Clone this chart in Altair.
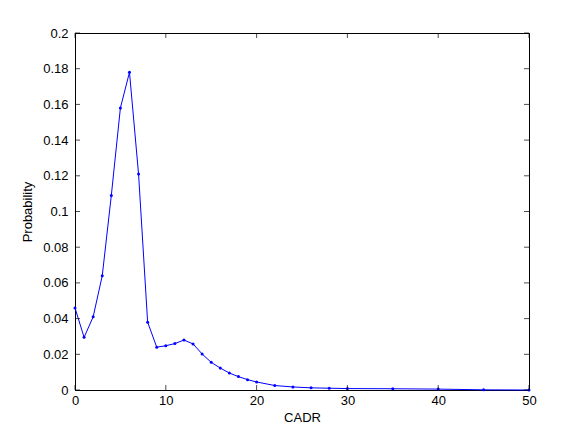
import altair as alt
import pandas as pd

cadr = [0, 1, 2, 3, 4, 5, 6, 7, 8, 9, 10, 11, 12, 13, 14, 15, 16, 17, 18, 19, 20,
        22, 24, 26, 28, 30, 35, 40, 45, 50]
prob = [0.046, 0.0295, 0.041, 0.064, 0.109, 0.158, 0.178, 0.121, 0.038, 0.024,
        0.0248, 0.026, 0.028, 0.0258, 0.0202, 0.0155, 0.0123, 0.0095, 0.0075, 0.0058,
        0.0045, 0.0025, 0.0017, 0.0012, 0.001, 0.0008, 0.0007, 0.0005, 0.0001, 0.0]

x_ticks = [0, 10, 20, 30, 40, 50]
y_ticks = [0, 0.02, 0.04, 0.06, 0.08, 0.1, 0.12, 0.14, 0.16, 0.18, 0.2]

W, H = 454, 357
FONT = "Liberation Sans"

df = pd.DataFrame({"CADR": cadr, "Probability": prob})
xt = pd.DataFrame({"v": x_ticks})
yt = pd.DataFrame({"v": y_ticks})

xscale = alt.Scale(domain=[0, 50], nice=False)
yscale = alt.Scale(domain=[0, 0.2], nice=False)

common = dict(tickSize=0, grid=False, domainColor="black", labelColor="black",
              titleColor="black", labelFontSize=13, titleFontSize=13, labelFont=FONT,
              titleFont=FONT, titleFontWeight="normal", labelOverlap=False,
              labelFlush=False, labelBound=False, format="~r")

xaxis = alt.Axis(values=x_ticks, title="CADR", labelPadding=4, titlePadding=4, **common)
yaxis = alt.Axis(values=y_ticks, title="Probability", labelPadding=7, titlePadding=8, **common)

line = alt.Chart(df).mark_line(
    color="#0000ff", strokeWidth=1,
    point=alt.OverlayMarkDef(color="#0000ff", size=9, filled=True),
).encode(
    x=alt.X("CADR:Q", scale=xscale, axis=xaxis),
    y=alt.Y("Probability:Q", scale=yscale, axis=yaxis),
)

def xtick(ypix):
    return alt.Chart(xt).mark_tick(orient="vertical", size=5, thickness=1, color="black").encode(
        x=alt.X("v:Q", scale=xscale, axis=xaxis), y=alt.value(ypix))

def ytick(xpix):
    return alt.Chart(yt).mark_tick(orient="horizontal", size=5, thickness=1, color="black").encode(
        y=alt.Y("v:Q", scale=yscale, axis=yaxis), x=alt.value(xpix))

chart = alt.layer(
    line, xtick(H - 2.5), xtick(2.5), ytick(2.5), ytick(W - 2.5)
).properties(
    width=W, height=H,
    autosize=alt.AutoSizeParams(type="none"),
    padding={"left": 67, "top": 25, "right": 45, "bottom": 40},
).configure_view(stroke="black", strokeWidth=1)

chart.save("out.html", embed_options={"renderer": "svg", "actions": False})
